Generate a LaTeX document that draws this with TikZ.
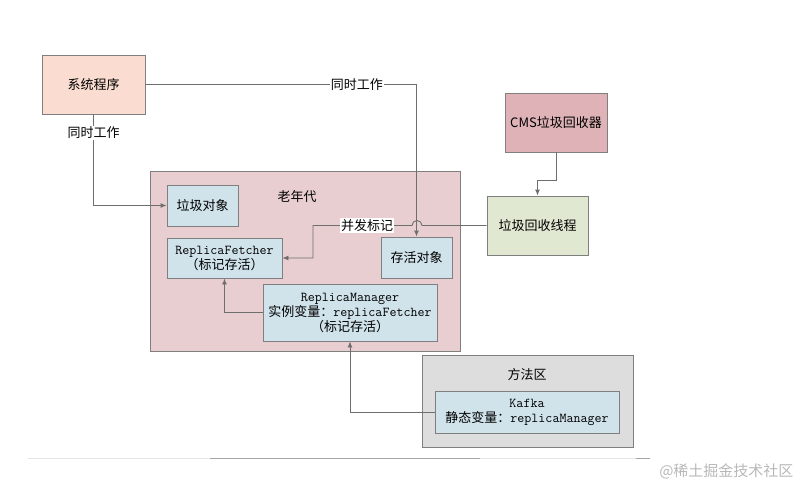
\documentclass[tikz,border=0pt]{standalone}
\usepackage{fontspec}
\newfontfamily\cjk{Noto Sans CJK SC}
\usepackage{xcolor}
\usepackage{tikz}
\usetikzlibrary{calc, arrows.meta, positioning}

\definecolor{viencol}{HTML}{7F7F7F}
\definecolor{linecol}{HTML}{6E6E6E}
\definecolor{daocol}{HTML}{FADDD0}
\definecolor{oldcol}{HTML}{E8CED0}
\definecolor{xanhcol}{HTML}{D0E3EB}
\definecolor{cmscol}{HTML}{DEB2B6}
\definecolor{luccol}{HTML}{E0E8D2}
\definecolor{xamcol}{HTML}{DDDDDD}
\newcommand{\mono}[1]{{\ttfamily\fontsize{13.6}{15}\selectfont #1}}

\begin{document}
\begin{tikzpicture}[x=1pt, y=-1pt, >={Latex[length=6pt,width=5pt]},
    hop/.style={draw=viencol, line width=0.9pt, align=center, inner sep=0pt,
        font=\cjk\fontsize{13}{15}\selectfont},
    conn/.style={->, draw=linecol, line width=0.9pt},
    nhan/.style={fill=white, inner sep=1pt, font=\cjk\fontsize{13}{15}\selectfont}]
    \useasboundingbox (0,0) rectangle (811,490);

    % Vẽ các vùng lớn
    \node[hop, fill=oldcol, minimum width=310, minimum height=180] (oldgen) at (305,261) {};
    \node[font=\cjk\fontsize{13}{15}\selectfont] (oldlabel) at (297,197) {老年代};
    \node[hop, fill=xamcol, minimum width=211, minimum height=92] (method) at (527.5,401) {};
    \node[font=\cjk\fontsize{13}{15}\selectfont] (methodlabel) at (527,375) {方法区};

    % Vẽ các hộp
    \node[hop, fill=daocol, minimum width=103, minimum height=59] (sys) at (93.5,84.5) {系统程序};
    \node[hop, fill=cmscol, minimum width=102, minimum height=59] (cms) at (556,122.5) {CMS垃圾回收器};
    \node[hop, fill=luccol, minimum width=101, minimum height=59] (gcthread) at (537.5,225.5) {垃圾回收线程};
    \node[hop, fill=xanhcol, minimum width=71, minimum height=41] (garbage) at (202.5,205.5) {垃圾对象};
    \node[hop, fill=xanhcol, minimum width=71, minimum height=41] (alive) at (416.5,257.5) {存活对象};
    \node[hop, fill=xanhcol, minimum width=115, minimum height=40] (fetcher) at (224.5,258)
        {\mono{ReplicaFetcher}\\（标记存活）};
    \node[hop, fill=xanhcol, minimum width=174, minimum height=57] (manager) at (350,312.5)
        {\mono{ReplicaManager}\\实例变量：\mono{replicaFetcher}\\（标记存活）};
    \node[hop, fill=xanhcol, minimum width=184, minimum height=42] (kafka) at (527,412)
        {\mono{Kafka}\\静态变量：\mono{replicaManager}};

    % Vẽ các đường nối
    \draw[conn] (sys.east) -| node[nhan, pos=0.39] {同时工作} (alive.north);
    \draw[conn] (sys.south) |- node[nhan, pos=0.10] {同时工作} (garbage.west);
    \draw[conn] (cms.south) -- ++(0,28) -| (gcthread.north);
    \coordinate (hopR) at (422,225.5);
    \draw[conn] (gcthread.west) -- (hopR) arc[start angle=0, end angle=-180, radius=5]
        -- (313,225.5) |- (fetcher.east);
    \node[nhan] (bingfa) at (367,225.5) {并发标记};
    \draw[conn] (manager.west) -| (fetcher.south);
    \draw[conn] (kafka.west) -| (manager.south);

    % Đường mờ phía dưới
    \draw[black!10, line width=1pt] (28,458) -- (210,458);
    \draw[black!35, line width=0.8pt] (210,458) -- (480,458);
    \draw[black!10, line width=1pt] (480,458) -- (636,458);
    \draw[black!35, line width=0.8pt] (636,458) -- (650,458);
    \node[font=\cjk\fontsize{15}{17}\selectfont, text=black!28, anchor=east] (mark) at (797,471) {@稀土掘金技术社区};
\end{tikzpicture}
\end{document}
